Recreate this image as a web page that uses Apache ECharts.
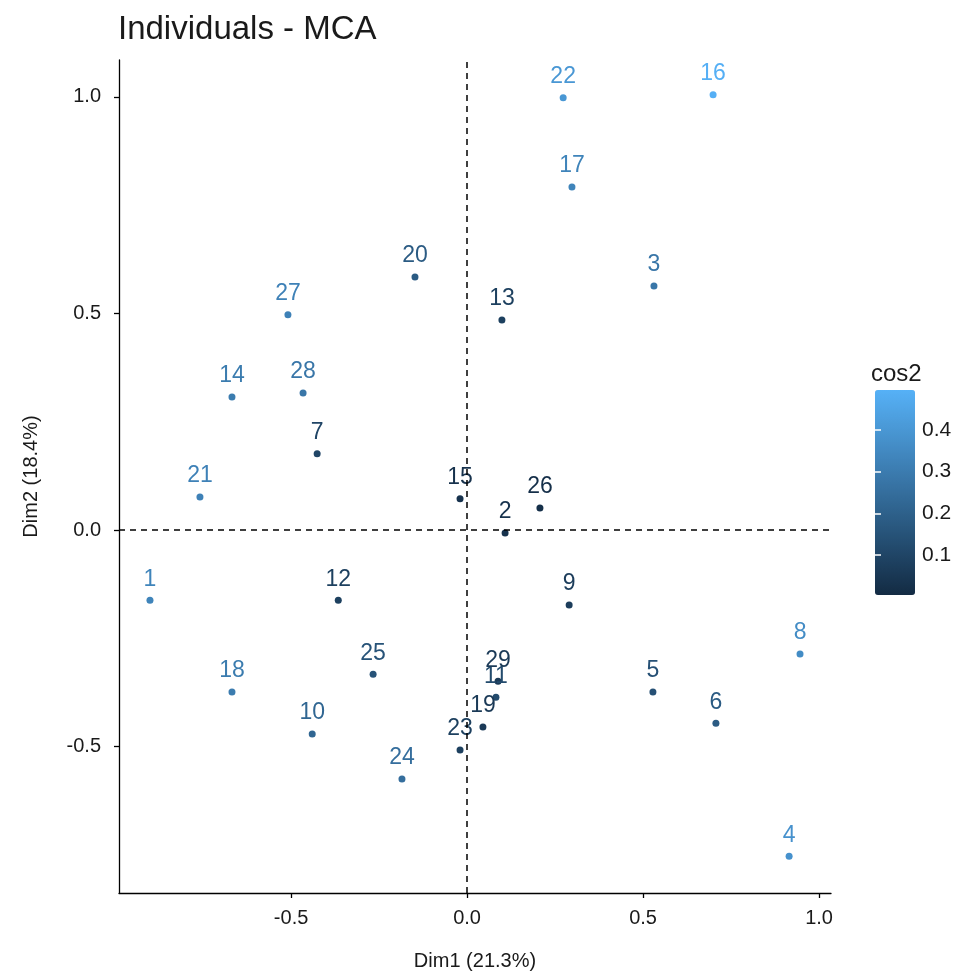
<!DOCTYPE html>
<html>
<head>
<meta charset="UTF-8">
<title>Individuals - MCA</title>
<script src="https://cdn.jsdelivr.net/npm/echarts@6/dist/echarts.min.js"></script>
<style>
  html, body { margin: 0; padding: 0; background: #fff; }
  #main { width: 965px; height: 979px; }
</style>
</head>
<body>
<div id="main"></div>
<script>
// individuals: id, coordinates on Dim1 / Dim2, quality of representation (cos2)
var ids  = ['1','2','3','4','5','6','7','8','9','10','11','12','13','14','15',
            '16','17','18','19','20','21','22','23','24','25','26','27','28','29'];
var dim1 = [-0.901, 0.108, 0.531, 0.915, 0.528, 0.707, -0.426, 0.946, 0.290, -0.440,
             0.082, -0.366, 0.099, -0.668, -0.020, 0.699, 0.298, -0.668, 0.045, -0.148,
            -0.759, 0.273, -0.020, -0.185, -0.267, 0.207, -0.509, -0.466, 0.088];
var dim2 = [-0.162, -0.007, 0.563, -0.753, -0.374, -0.446, 0.176, -0.286, -0.173, -0.471,
            -0.386, -0.162, 0.485, 0.307, 0.072, 1.005, 0.792, -0.374, -0.455, 0.584,
             0.076, 0.998, -0.508, -0.575, -0.333, 0.051, 0.497, 0.316, -0.349];
var cos2 = [0.33, 0.03, 0.28, 0.38, 0.14, 0.18, 0.10, 0.36, 0.07, 0.22,
            0.12, 0.08, 0.08, 0.30, 0.03, 0.49, 0.33, 0.30, 0.06, 0.18,
            0.32, 0.40, 0.08, 0.25, 0.15, 0.02, 0.32, 0.28, 0.06];
var axisTicks = [-0.5, 0, 0.5, 1];
var cos2Ticks = [0.1, 0.2, 0.3, 0.4];

var points = [];
for (var i = 0; i < ids.length; i++) {
    points.push({ name: ids[i], value: [dim1[i], dim2[i], cos2[i]] });
}

var myChart = echarts.init(document.getElementById('main'));
var font = 'Liberation Sans, Arial, sans-serif';
var fmt = function (v) { return Number(v).toFixed(1); };

var option = {
    animation: false,
    textStyle: { fontFamily: font },
    title: [{
        text: 'Individuals - MCA',
        left: 113, top: 8,
        textStyle: { fontSize: 33, fontWeight: 'normal', color: '#1a1a1a', fontFamily: font }
    }, {
        text: 'cos2',
        left: 866, top: 357,
        textStyle: { fontSize: 24, fontWeight: 'normal', color: '#1a1a1a', fontFamily: font }
    }],
    grid: [
        { left: 119, right: 134, top: 60, bottom: 86 },
        { left: 875, top: 390, width: 40, height: 205 }
    ],
    xAxis: [{
        type: 'value', gridIndex: 0,
        min: -0.989, max: 1.034,
        name: 'Dim1 (21.3%)', nameLocation: 'middle', nameGap: 58,
        nameTextStyle: { fontSize: 20, color: '#1a1a1a' },
        axisLine: { show: true, onZero: false, lineStyle: { color: '#000', width: 1.3 } },
        axisTick: { show: true, length: 5, customValues: axisTicks, lineStyle: { color: '#000', width: 1.3 } },
        axisLabel: { customValues: axisTicks, formatter: fmt, fontSize: 20, color: '#1a1a1a', margin: 15 },
        splitLine: { show: false }
    }, {
        type: 'value', gridIndex: 1, show: false, min: 0, max: 1
    }],
    yAxis: [{
        type: 'value', gridIndex: 0,
        min: -0.838, max: 1.085,
        name: 'Dim2 (18.4%)', nameLocation: 'middle', nameGap: 78, nameRotate: 90,
        nameTextStyle: { fontSize: 20, color: '#1a1a1a' },
        axisLine: { show: true, onZero: false, lineStyle: { color: '#000', width: 1.3 } },
        axisTick: { show: true, length: 5, customValues: axisTicks, lineStyle: { color: '#000', width: 1.3 } },
        axisLabel: { customValues: axisTicks, formatter: fmt, fontSize: 20, color: '#1a1a1a', margin: 18 },
        splitLine: { show: false }
    }, {
        type: 'value', gridIndex: 1, position: 'right', z: 20,
        min: 0.004, max: 0.496,
        axisLine: { show: false },
        axisTick: { show: true, inside: true, length: 6, customValues: cos2Ticks, lineStyle: { color: '#fff', width: 1.5 } },
        axisLabel: { customValues: cos2Ticks, formatter: fmt, fontSize: 21, color: '#1a1a1a', margin: 7 },
        splitLine: { show: false }
    }, {
        type: 'value', gridIndex: 1, position: 'left', z: 20,
        min: 0.004, max: 0.496,
        axisLine: { show: false },
        axisTick: { show: true, inside: true, length: 6, customValues: cos2Ticks, lineStyle: { color: '#fff', width: 1.5 } },
        axisLabel: { show: false, customValues: cos2Ticks },
        splitLine: { show: false }
    }],
    visualMap: {
        type: 'continuous',
        seriesIndex: 0,
        dimension: 2,
        min: 0.004, max: 0.496,
        left: 875, top: 390,
        padding: 0,
        itemWidth: 40, itemHeight: 205,
        calculable: false,
        showLabel: false,
        text: null,
        hoverLink: false,
        inRange: { color: ['#132B43', '#56B1F7'] }
    },
    series: [{
        type: 'scatter',
        xAxisIndex: 0, yAxisIndex: 0,
        symbol: 'circle',
        symbolSize: 7,
        itemStyle: { opacity: 1 },
        data: points,
        label: {
            show: true,
            position: 'top',
            distance: 6,
            formatter: '{b}',
            fontSize: 23,
            color: 'inherit'
        },
        labelLayout: { hideOverlap: false },
        markLine: {
            silent: true,
            symbol: 'none',
            label: { show: false },
            lineStyle: { color: '#000', type: [6, 5], width: 1.5 },
            data: [{ xAxis: 0 }, { yAxis: 0 }]
        }
    }]
};
myChart.setOption(option);
</script>
</body>
</html>
